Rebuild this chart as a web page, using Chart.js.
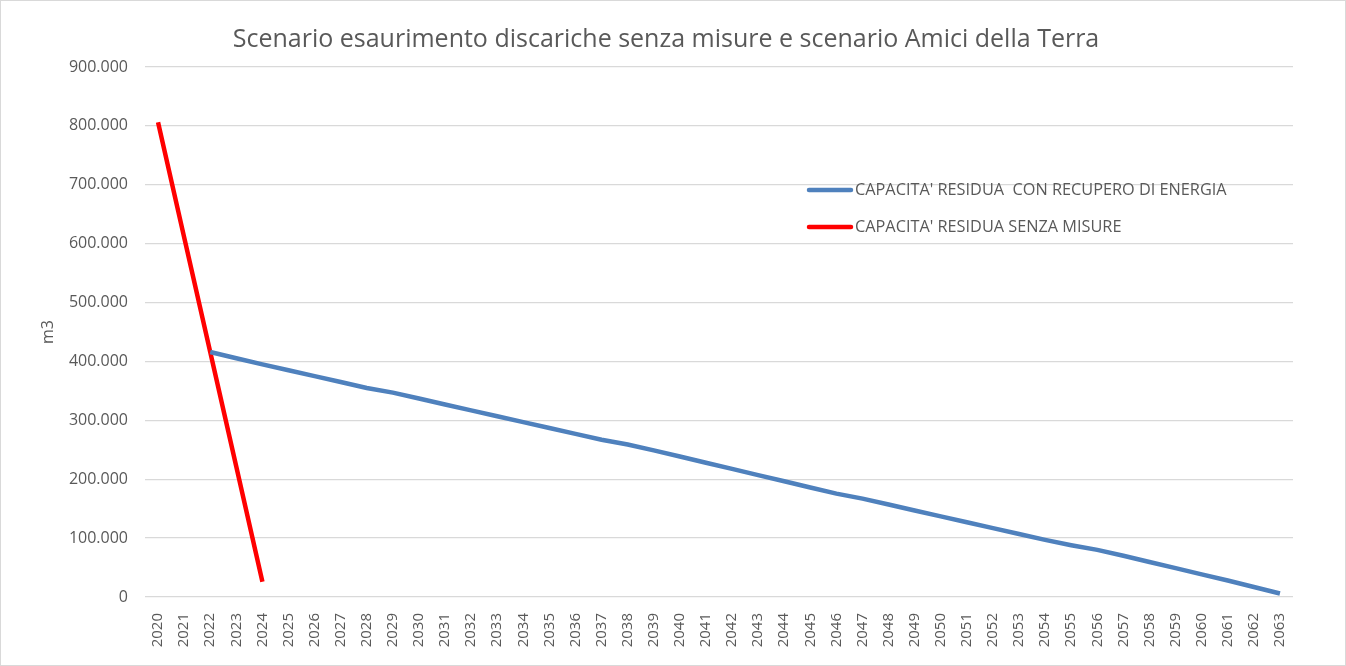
<!DOCTYPE html>
<html>
<head>
<meta charset="utf-8">
<script src="https://cdn.jsdelivr.net/npm/chart.js@4.4.1/dist/chart.umd.min.js"></script>
<style>
  html, body { margin: 0; padding: 0; background: #fff; }
  #wrap { position: relative; width: 1344px; height: 664px; border: 1px solid #d9d9d9; }
</style>
</head>
<body>
<div id="wrap"><canvas id="scenario"></canvas></div>
<script>
// anni e valori
var years = [];
for (var y = 2020; y <= 2063; y++) years.push(String(y));

var conRecupero = [null, null,
    416000, 405500, 395000, 385000, 375000, 365000, 355000, 347000, 337000, 327000,
    317000, 307000, 297000, 287000, 277000, 267000, 259000, 249000, 238500, 228000,
    217500, 207000, 196500, 186000, 175500, 167000, 157000, 147000, 137000, 127000,
    117000, 107000, 97000, 88000, 80000, 70000, 59500, 49000, 38500, 28000,
    17000, 6000];

var senzaMisure = [806000, 611000, 416000, 221000, 26000];

var labelRecupero = "CAPACITA' RESIDUA  CON RECUPERO DI ENERGIA";
var labelSenza = "CAPACITA' RESIDUA SENZA MISURE";
var yTicksMax = 900000;
var yStep = 100000;

var grey = '#595959';
var font = "'Open Sans', 'Noto Sans', sans-serif";

function fmt(v) {
    return String(v).replace(/\B(?=(\d{3})+(?!\d))/g, '.');
}

// legenda dentro l'area del grafico
var insideLegend = {
    id: 'insideLegend',
    afterDraw: function (chart) {
        var c = chart.ctx;
        var x = 808, ys = [189, 226];
        c.save();
        c.font = '16.3px ' + font;
        c.fillStyle = grey;
        c.textBaseline = 'middle';
        chart.data.datasets.forEach(function (ds, i) {
            c.strokeStyle = ds.borderColor;
            c.lineWidth = 4.5;
            c.lineCap = 'round';
            c.beginPath();
            c.moveTo(x, ys[i]);
            c.lineTo(x + 42, ys[i]);
            c.stroke();
            c.fillText(ds.label, x + 46, ys[i]);
        });
        c.restore();
    }
};

var ctx = document.getElementById('scenario').getContext('2d');
var myChart = new Chart(ctx, {
    type: 'line',
    data: {
        labels: years,
        datasets: [{
            label: labelRecupero,
            data: conRecupero,
            borderColor: '#4f81bd',
            borderWidth: 4.5,
            pointRadius: 0,
            tension: 0
        }, {
            label: labelSenza,
            data: senzaMisure,
            borderColor: '#ff0000',
            borderWidth: 4.5,
            pointRadius: 0,
            tension: 0
        }]
    },
    options: {
        responsive: true,
        maintainAspectRatio: false,
        animation: false,
        layout: { padding: { left: 38, right: 52, top: 2, bottom: 6 } },
        plugins: {
            legend: { display: false },
            tooltip: { enabled: false },
            title: {
                display: true,
                text: 'Scenario esaurimento discariche senza misure e scenario Amici della Terra',
                color: grey,
                font: { family: font, size: 25, weight: 'normal' },
                padding: { top: 22, bottom: 12 }
            }
        },
        scales: {
            x: {
                offset: true,
                grid: { display: false },
                border: { display: false },
                ticks: {
                    color: grey,
                    font: { family: font, size: 15 },
                    minRotation: 90,
                    maxRotation: 90,
                    autoSkip: false,
                    padding: 8
                },
                afterFit: function (s) { s.height = 62; }
            },
            y: {
                min: 0,
                max: yTicksMax,
                grid: { color: '#d9d9d9', lineWidth: 1.3, drawTicks: false },
                border: { display: false },
                ticks: {
                    stepSize: yStep,
                    color: grey,
                    font: { family: font, size: 16 },
                    padding: 17,
                    callback: function (v) { return fmt(v); }
                },
                title: {
                    display: true,
                    text: 'm3',
                    color: grey,
                    font: { family: font, size: 16 },
                    padding: 0
                },
                afterFit: function (s) { s.width = 106; }
            }
        }
    },
    plugins: [insideLegend]
});
</script>
</body>
</html>
